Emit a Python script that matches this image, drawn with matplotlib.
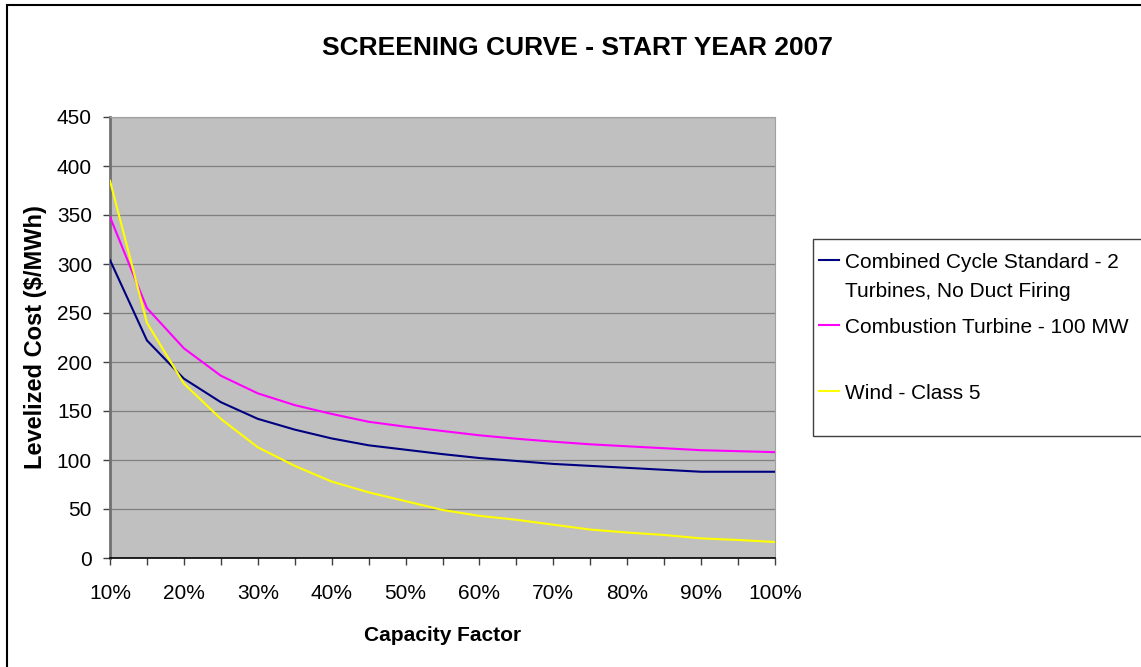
import matplotlib
matplotlib.use('Agg')
import matplotlib.pyplot as plt
from matplotlib.patches import Rectangle
from matplotlib.lines import Line2D
from matplotlib.ticker import MultipleLocator, FuncFormatter

plt.rcParams['font.family'] = ['Liberation Sans', 'DejaVu Sans']

''' Data '''
capacity_factor = [10, 15, 20, 25, 30, 35, 40, 45, 50, 55, 60, 65, 70, 75, 80, 85, 90, 95, 100]
combined_cycle = [304, 222, 183, 159, 142, 131, 122, 115, 110.5, 106, 102, 99, 96, 94, 92, 90, 88, 88, 88]
combustion_turbine = [348, 255, 214, 186, 168, 156, 147, 139, 134, 129.6, 125.2, 121.7, 118.7, 116, 114, 112, 110, 109, 108]
wind_class5 = [385, 240, 178, 142, 113, 94, 78, 67, 58, 49, 43, 39, 34, 29, 26, 23.5, 20, 18.4, 16.3]

series_names = ['Combined Cycle Standard - 2\nTurbines, No Duct Firing',
                'Combustion Turbine - 100 MW',
                'Wind - Class 5']
series_colors = ['#000080', '#FF00FF', '#FFFF00']

W, H = 1141, 667
def fx(x): return x / W
def fy(y): return 1 - y / H

''' Figure and plot area '''
fig = plt.figure(figsize=(W / 100, H / 100), dpi=100)
ax = fig.add_axes([fx(110), fy(558), fx(775) - fx(110), fy(117) - fy(558)])
ax.set_facecolor('#C0C0C0')

for vals, name, col in zip([combined_cycle, combustion_turbine, wind_class5], series_names, series_colors):
    ax.plot(capacity_factor, vals, color=col, lw=1.5, label=name, zorder=3)

# axes formatting
ax.set_xlim(10, 100)
ax.set_ylim(0, 450)
ax.yaxis.set_major_locator(MultipleLocator(50))
ax.xaxis.set_major_locator(MultipleLocator(10))
ax.xaxis.set_minor_locator(MultipleLocator(5))
ax.xaxis.set_major_formatter(FuncFormatter(lambda v, p: '{:.0f}%'.format(v)))
ax.grid(axis='y', color='#808080', lw=0.9, zorder=1)
ax.set_axisbelow(True)
ax.tick_params(axis='y', which='major', direction='out', length=5, width=1, color='#404040', labelsize=15, pad=8)
ax.tick_params(axis='x', which='both', direction='out', length=5, width=1, color='#404040', labelsize=15, pad=14)
ax.spines['left'].set_color('#707070')
ax.spines['left'].set_linewidth(2)
ax.spines['bottom'].set_color('black')
ax.spines['bottom'].set_linewidth(1.2)
for s in ['top', 'right']:
    ax.spines[s].set_color('#A0A0A0')
    ax.spines[s].set_linewidth(0.8)

ax.set_xlabel('Capacity Factor', fontsize=15, weight='bold', labelpad=16)
ax.set_ylabel('Levelized Cost ($/MWh)', fontsize=17, weight='bold', labelpad=7)

# title centred over the whole chart area
fig.text(fx(577), fy(48), 'SCREENING CURVE - START YEAR 2007', fontsize=19, weight='bold', ha='center', va='center')

# outer chart border (runs off the right and bottom edges)
fig.add_artist(Rectangle((fx(7), fy(680)), fx(1160) - fx(7), fy(5) - fy(680), transform=fig.transFigure,
                         fill=False, edgecolor='black', lw=1.5))

''' Legend box drawn by hand so its right side is cut off like the original '''
fig.add_artist(Rectangle((fx(813), fy(436)), fx(1160) - fx(813), fy(239) - fy(436), transform=fig.transFigure,
                         facecolor='white', edgecolor='#404040', lw=1))
legend_y = [260, 325, 391]
for line, y in zip(ax.get_lines(), legend_y):
    fig.add_artist(Line2D([fx(819), fx(839)], [fy(y), fy(y)], transform=fig.transFigure,
                          color=line.get_color(), lw=1.5))
    fig.text(fx(845), fy(y - 7), line.get_label(), fontsize=15, ha='left', va='top',
             transform=fig.transFigure, linespacing=1.65)

fig.savefig('out.png', dpi=100)
